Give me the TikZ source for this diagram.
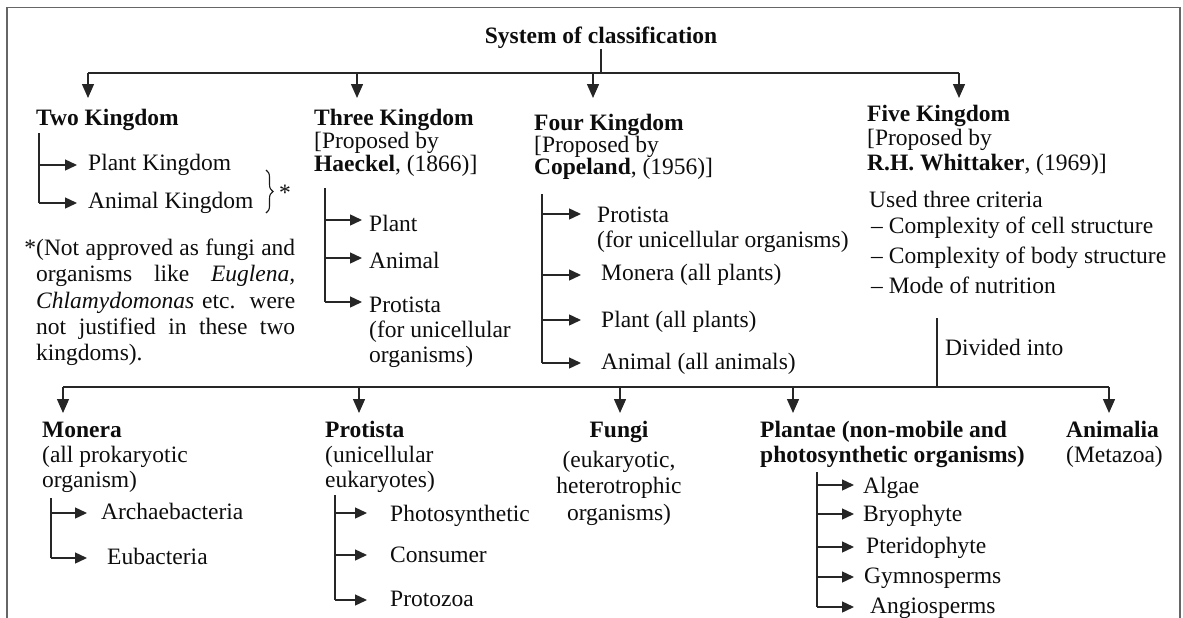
\documentclass[tikz,border=0pt]{standalone}
\usepackage{fontspec}
\setmainfont{Liberation Serif}
\usetikzlibrary{arrows.meta,decorations.pathreplacing}
\tikzset{
  txt/.style={anchor=base west, inner sep=0pt, text=black!95, font=\fontsize{23.5}{26}\selectfont},
  txtb/.style={txt, font=\fontsize{23.5}{26}\selectfont\bfseries},
  ctr/.style={anchor=base},
  ln/.style={line width=1.4pt, draw=black!85},
  arr/.style={ln, -{Triangle[length=14pt,width=12pt]}},
  sarr/.style={ln, -{Triangle[length=12pt,width=11pt]}},
  framel/.style={line width=1.5pt, draw=black!60},
  bracel/.style={line width=1.1pt, draw=black!90, decorate, decoration={brace, amplitude=7pt}}
}
\newcommand{\jline}[1]{\makebox[259pt][s]{#1}}
\begin{document}
\begin{tikzpicture}[x=1pt,y=-1pt]
\useasboundingbox (0,0) rectangle (1183,618);
\draw[framel] (7,618) -- (7,7.5) -- (1180,7.5) -- (1180,618);

% title and top bus
\node[txtb,ctr] (title) at (601,44) {System of classification};
\coordinate (stemT) at (601,49);
\coordinate (stemB) at (601,73);
\coordinate (busL) at (88,73);
\coordinate (busR) at (959,73);
\draw[ln] (stemT) -- (stemB);
\draw[ln] (busL) -- (busR);
\coordinate (a2) at (357,73);
\coordinate (a3) at (593,73);
\coordinate (t1) at (88,98);
\coordinate (t2) at (357,98);
\coordinate (t3) at (593,98);
\coordinate (t4) at (959,98);
\draw[arr] (busL) -- (t1);
\draw[arr] (a2) -- (t2);
\draw[arr] (a3) -- (t3);
\draw[arr] (busR) -- (t4);

% Two Kingdom
\node[txtb] (two) at (36,125) {Two Kingdom};
\node[txt] (twoP) at (88,170) {Plant Kingdom};
\node[txt] (twoA) at (88,208) {Animal Kingdom};
\draw[ln] (39,133) -- (39,203);
\draw[sarr] (39,165) -- (77,165);
\draw[sarr] (39,203) -- (77,203);
\draw[bracel] (266,170) -- (266,213);
\node[txt] (star) at (279,200) {*};
\node[txt] (fn1) at (36,255) {\jline{\llap{*}(Not approved as fungi and}};
\node[txt] (fn2) at (36,281) {\jline{organisms like \textit{Euglena,}}};
\node[txt] (fn3) at (36,308) {\jline{\textit{Chlamydomonas} etc. were}};
\node[txt] (fn4) at (36,334) {\jline{not justified in these two}};
\node[txt] (fn5) at (36,360) {kingdoms).};

% Three Kingdom
\node[txtb] (three) at (314,125) {Three Kingdom};
\node[txt] (three2) at (314,148) {[Proposed by};
\node[txt] (three3) at (314,171) {\textbf{Haeckel}, (1866)]};
\draw[ln] (325,188) -- (325,302);
\draw[sarr] (325,220) -- (362,220);
\draw[sarr] (325,258) -- (362,258);
\draw[sarr] (325,302) -- (362,302);
\node[txt] (thP) at (369,231) {Plant};
\node[txt] (thA) at (369,268) {Animal};
\node[txt] (thR) at (369,312) {Protista};
\node[txt] (thR2) at (369,337) {(for unicellular};
\node[txt] (thR3) at (369,362) {organisms)};

% Four Kingdom
\node[txtb] (four) at (534,130) {Four Kingdom};
\node[txt] (four2) at (534,152) {[Proposed by};
\node[txt] (four3) at (534,174) {\textbf{Copeland}, (1956)]};
\draw[ln] (542,194) -- (542,363);
\draw[sarr] (542,214) -- (581,214);
\draw[sarr] (542,275) -- (581,275);
\draw[sarr] (542,320) -- (581,320);
\draw[sarr] (542,363) -- (581,363);
\node[txt] (foR) at (597,222) {Protista};
\node[txt] (foR2) at (597,247) {(for unicellular organisms)};
\node[txt] (foM) at (601,280) {Monera (all plants)};
\node[txt] (foP) at (601,327) {Plant (all plants)};
\node[txt] (foA) at (601,369) {Animal (all animals)};

% Five Kingdom
\node[txtb] (five) at (867,121) {Five Kingdom};
\node[txt] (five2) at (867,145) {[Proposed by};
\node[txt] (five3) at (867,170) {\textbf{R.H. Whittaker}, (1969)]};
\node[txt] (used) at (869,207) {Used three criteria};
\node[txt] (cr1) at (871,233) {-- Complexity of cell structure};
\node[txt] (cr2) at (871,263) {-- Complexity of body structure};
\node[txt] (cr3) at (871,293) {-- Mode of nutrition};
\node[txt] (div) at (945,355) {Divided into};
\coordinate (divT) at (937,318);
\coordinate (divB) at (937,387);
\draw[ln] (divT) -- (divB);

% bottom bus
\coordinate (bL) at (63,387);
\coordinate (bR) at (1109,387);
\draw[ln] (bL) -- (bR);
\coordinate (b2) at (359,387);
\coordinate (b3) at (620,387);
\coordinate (b4) at (793,387);
\coordinate (u1) at (63,413);
\coordinate (u2) at (359,413);
\coordinate (u3) at (620,413);
\coordinate (u4) at (793,413);
\coordinate (u5) at (1109,413);
\draw[arr] (bL) -- (u1);
\draw[arr] (b2) -- (u2);
\draw[arr] (b3) -- (u3);
\draw[arr] (b4) -- (u4);
\draw[arr] (bR) -- (u5);

% Monera
\node[txtb] (mon) at (42,437) {Monera};
\node[txt] (mon2) at (42,462) {(all prokaryotic};
\node[txt] (mon3) at (42,487) {organism)};
\draw[ln] (51,498) -- (51,558);
\draw[sarr] (51,513) -- (87,513);
\draw[sarr] (51,558) -- (87,558);
\node[txt] (arch) at (101,519) {Archaebacteria};
\node[txt] (eub) at (107,564) {Eubacteria};

% Protista
\node[txtb] (pro) at (325,437) {Protista};
\node[txt] (pro2) at (325,462) {(unicellular};
\node[txt] (pro3) at (325,487) {eukaryotes)};
\draw[ln] (335,495) -- (335,600);
\draw[sarr] (335,513) -- (367,513);
\draw[sarr] (335,555) -- (367,555);
\draw[sarr] (335,600) -- (367,600);
\node[txt] (ph) at (390,521) {Photosynthetic};
\node[txt] (co) at (390,562) {Consumer};
\node[txt] (pz) at (390,606) {Protozoa};

% Fungi
\node[txtb,ctr] (fun) at (619,437) {Fungi};
\node[txt,ctr] (fun2) at (619,467) {(eukaryotic,};
\node[txt,ctr] (fun3) at (619,493) {heterotrophic};
\node[txt,ctr] (fun4) at (619,520) {organisms)};

% Plantae
\node[txtb] (pla) at (760,437) {Plantae (non-mobile and};
\node[txtb] (pla2) at (760,462) {photosynthetic organisms)};
\draw[ln] (817,472) -- (817,607);
\draw[sarr] (817,485) -- (854,485);
\draw[sarr] (817,514) -- (854,514);
\draw[sarr] (817,547) -- (854,547);
\draw[sarr] (817,577) -- (854,577);
\draw[sarr] (817,607) -- (854,607);
\node[txt] (alg) at (863,493) {Algae};
\node[txt] (bry) at (863,521) {Bryophyte};
\node[txt] (pte) at (866,553) {Pteridophyte};
\node[txt] (gym) at (864,583) {Gymnosperms};
\node[txt] (ang) at (870,613) {Angiosperms};

% Animalia
\node[txtb] (ani) at (1066,437) {Animalia};
\node[txt] (ani2) at (1066,462) {(Metazoa)};
\end{tikzpicture}
\end{document}
